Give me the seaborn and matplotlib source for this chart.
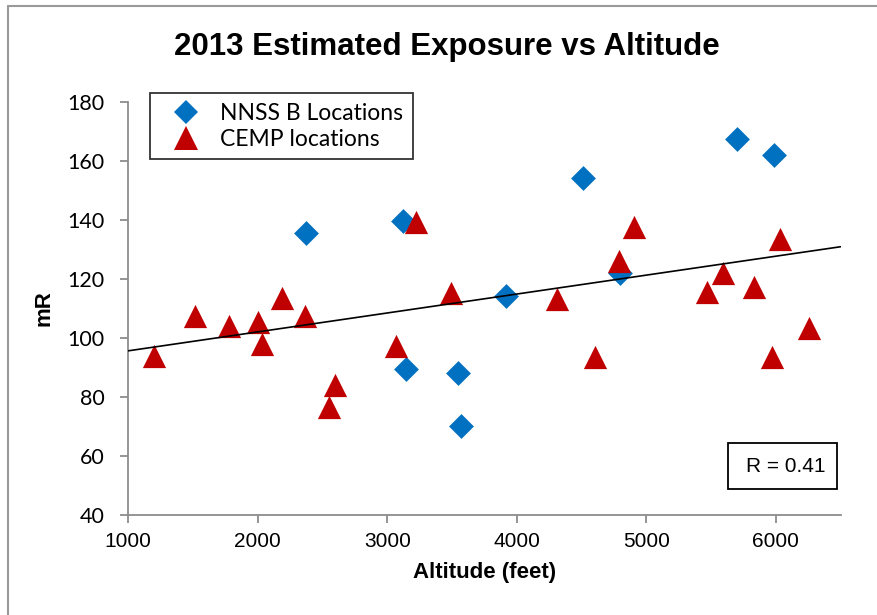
import numpy as np
import pandas as pd
import matplotlib.pyplot as plt
import matplotlib.patches as mpatches
import matplotlib.lines as mlines
import seaborn as sns

# -----------------------------
# Data
# -----------------------------
nnss_alt = [2372, 3124, 3145, 3549, 3569, 3917, 4514, 4797, 5698, 5988]
nnss_mr = [135.5, 139.7, 89.4, 88.0, 70.3, 114.2, 154.1, 122.0, 167.5, 162.1]

cemp_alt = [1198, 1517, 1775, 2004, 2032, 2184, 2367, 2547, 2596, 3067, 3222,
            3492, 4313, 4604, 4789, 4905, 5466, 5590, 5834, 5973, 6032, 6259]
cemp_mr = [93.9, 107.5, 104.1, 105.3, 97.9, 113.5, 107.4, 76.5, 84.1, 97.4, 139.4,
           115.3, 113.3, 93.5, 126.2, 137.6, 115.6, 122.0, 117.4, 93.5, 133.6, 103.4]

x_ticks = [1000, 2000, 3000, 4000, 5000, 6000]
y_ticks = [40, 60, 80, 100, 120, 140, 160, 180]

BLUE = "#0070C0"
RED = "#C00000"
GREY = "#8c8c8c"

nnss = pd.DataFrame({"Altitude": nnss_alt, "mR": nnss_mr})
cemp = pd.DataFrame({"Altitude": cemp_alt, "mR": cemp_mr})
both = pd.concat([nnss, cemp], ignore_index=True)

sns.set_style("white")
plt.rcParams["font.family"] = ["Liberation Sans", "DejaVu Sans"]
plt.rcParams["text.color"] = "black"
plt.rcParams["axes.labelcolor"] = "black"
plt.rcParams["xtick.color"] = "black"
plt.rcParams["ytick.color"] = "black"

fig = plt.figure(figsize=(8.78, 6.15), dpi=100)
ax = fig.add_axes([0.1461, 0.1626, 0.8112, 0.6715])

ax.set_xlim(1000, 6500)
ax.set_ylim(40, 180)

sns.scatterplot(data=nnss, x="Altitude", y="mR", marker="D", s=160, color=BLUE,
                edgecolor=BLUE, linewidth=0, ax=ax, zorder=3)
sns.scatterplot(data=cemp, x="Altitude", y="mR", marker="^", s=280, color=RED,
                edgecolor=RED, linewidth=0, ax=ax, zorder=3)

# linear trend over all locations
sns.regplot(data=both, x="Altitude", y="mR", scatter=False, ci=None, truncate=False,
            line_kws={"color": "black", "linewidth": 1.2, "zorder": 4}, ax=ax)

ax.set_xticks(x_ticks)
ax.set_yticks(y_ticks)
for side in ["top", "right"]:
    ax.spines[side].set_visible(False)
for side in ["left", "bottom"]:
    ax.spines[side].set_color(GREY)
    ax.spines[side].set_linewidth(1.3)
ax.tick_params(axis="both", direction="out", length=6, width=1.3, color=GREY,
               left=True, bottom=True, labelcolor="black")
ax.tick_params(axis="x", labelsize=15, pad=6)
ax.tick_params(axis="y", pad=11)
for lab in ax.get_yticklabels():
    lab.set_fontfamily("Lato")
    lab.set_fontsize(15.5)

ax.set_xlabel("Altitude (feet)", fontsize=16, fontweight="bold", labelpad=8)
ax.set_ylabel("mR", fontsize=16, fontweight="bold", labelpad=9)

fig.text(447 / 878, 1 - 47 / 615, "2013 Estimated Exposure vs Altitude", ha="center",
         va="center", fontsize=22.5, fontweight="bold")

# legend
handles = [
    mlines.Line2D([], [], linestyle="none", marker="D", markersize=12, color=BLUE,
                  markeredgewidth=0, label="NNSS B Locations"),
    mlines.Line2D([], [], linestyle="none", marker="^", markersize=17, color=RED,
                  markeredgewidth=0, label="CEMP locations"),
]
leg = ax.legend(handles=handles, loc="upper left", bbox_to_anchor=(0.0305, 1.0218),
                borderaxespad=0, frameon=True, fancybox=False, handlelength=2.3,
                handletextpad=0.35, borderpad=0.42, labelspacing=0.22,
                prop={"family": "Lato", "size": 16.5})
leg.get_frame().set_edgecolor("black")
leg.get_frame().set_linewidth(1.3)

# R box
ax.add_patch(mpatches.Rectangle((0.8416, 0.0630), 0.1530, 0.1114, transform=ax.transAxes,
                                fill=False, edgecolor="black", linewidth=1.3, zorder=5))
ax.text(0.9795, 0.1186, "R = 0.41", transform=ax.transAxes, ha="right", va="center",
        fontsize=15, zorder=6)

# outer chart border
fig.add_artist(mlines.Line2D([8 / 878, 1.0], [1 - 6 / 615, 1 - 6 / 615],
                             transform=fig.transFigure, color="#9a9a9a", linewidth=1.5))
fig.add_artist(mlines.Line2D([8 / 878, 8 / 878], [0.0, 1 - 6 / 615],
                             transform=fig.transFigure, color="#9a9a9a", linewidth=1.5))

fig.savefig("out.png", dpi=100)
